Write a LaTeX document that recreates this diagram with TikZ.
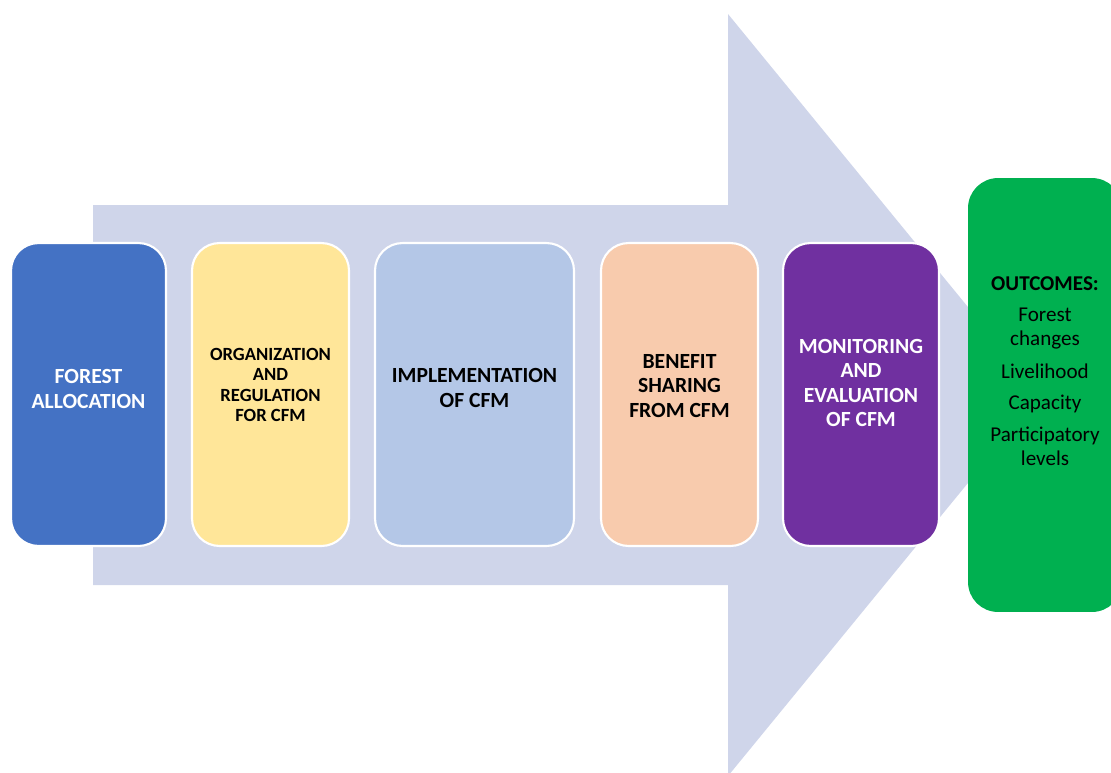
\documentclass[tikz,border=0pt]{standalone}
\usepackage{fontspec}
\setmainfont{Carlito}
\usetikzlibrary{positioning}

\definecolor{arrowbg}{HTML}{CFD5EA}
\definecolor{allocblue}{HTML}{4472C4}
\definecolor{orgyellow}{HTML}{FFE699}
\definecolor{implblue}{HTML}{B4C7E7}
\definecolor{benefitpeach}{HTML}{F8CBAD}
\definecolor{monpurple}{HTML}{7030A0}
\definecolor{outgreen}{HTML}{00B050}

\begin{document}
\begin{tikzpicture}[
    x=0.02cm, y=-0.02cm,
    stagebox/.style={rectangle, rounded corners=0.55cm, draw=white, line width=1.2pt, minimum height=6.06cm, inner sep=0pt},
    stagetext/.style={align=center, font=\fontsize{12.3}{13.8}\selectfont\bfseries, inner sep=0pt},
    smalltext/.style={align=center, font=\fontsize{10.6}{11.5}\selectfont\bfseries, inner sep=0pt},
    outcomebox/.style={rectangle, rounded corners=0.6cm, fill=outgreen, draw=none, minimum width=3.08cm, minimum height=8.68cm, inner sep=0pt}
    ]

    \useasboundingbox (0,0) rectangle (1111,772);

    % big arrow behind the stages
    \fill[arrowbg] (93,205) -- (728,205) -- (728,14) -- (1040,395) -- (728,776) -- (728,585) -- (93,585) -- cycle;

    \node[stagebox, fill=allocblue, minimum width=3.10cm] (alloc) at (88.5,394.5) {};
    \node[stagebox, fill=orgyellow, minimum width=3.14cm] (org) at (270.5,394.5) {};
    \node[stagebox, fill=implblue, minimum width=3.98cm] (impl) at (474.5,394.5) {};
    \node[stagebox, fill=benefitpeach, minimum width=3.14cm] (benefit) at (679.5,394.5) {};
    \node[stagebox, fill=monpurple, minimum width=3.12cm] (monitor) at (861,394.5) {};
    \node[outcomebox] (outcome) at (1045,395) {};

    \node[stagetext, text=white] (alloctext) at (88.5,389) {FOREST\\ALLOCATION};
    \node[smalltext] (orgtext) at (270.5,385) {ORGANIZATION\\AND\\REGULATION\\FOR CFM};
    \node[stagetext] (impltext) at (474.5,388) {IMPLEMENTATION\\OF CFM};
    \node[stagetext] (benefittext) at (679.5,386) {BENEFIT\\SHARING\\FROM CFM};
    \node[stagetext, text=white] (monitortext) at (861,383) {MONITORING\\AND\\EVALUATION\\OF CFM};

    \node[align=center, font=\fontsize{12}{13.5}\selectfont, inner sep=0pt] (outcometext) at (1045,371) {
        \textbf{OUTCOMES:}\\[4.3pt]
        Forest\\changes\\[5pt]
        Livelihood\\[4.5pt]
        Capacity\\[4.5pt]
        Participatory\\levels
    };

\end{tikzpicture}
\end{document}
